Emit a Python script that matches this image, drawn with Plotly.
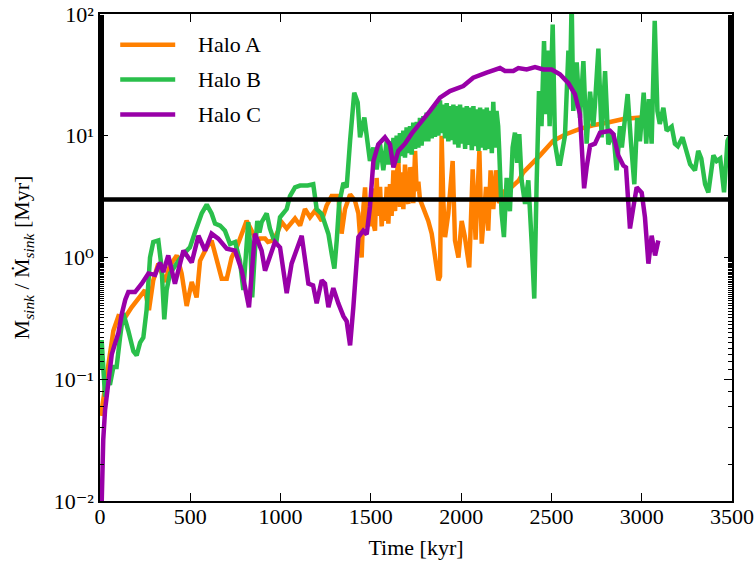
import plotly.graph_objects as go

# Sink accretion timescale M / Mdot [Myr] versus time [kyr] for three haloes

time_a = [5, 20, 40, 55, 74, 102, 138, 175, 212, 249, 271, 295, 323, 360, 388, 425, 452, 480, 508, 535,
          554, 591, 618, 655, 674, 702, 729, 757, 785, 812, 840, 868, 886, 914, 930, 960, 987, 1006, 1034,
          1061, 1080, 1108, 1135, 1163, 1191, 1228, 1255, 1283, 1320, 1338, 1357, 1385, 1412, 1431, 1449,
          1459, 1468, 1477, 1486, 1495, 1505, 1514, 1523, 1532, 1541, 1551, 1560, 1569, 1578, 1588, 1597,
          1606, 1615, 1625, 1634, 1643, 1652, 1661, 1670, 1680, 1689, 1698, 1708, 1717, 1726, 1735, 1745,
          1754, 1763, 1772, 1781, 1800, 1818, 1837, 1855, 1874, 1883, 1892, 1901, 1911, 1929, 1953, 1966,
          1985, 2003, 2020, 2045, 2064, 2080, 2101, 2114, 2138, 2150, 2163, 2178, 2193, 2210, 2240, 2280,
          2320, 2344, 2372, 2437, 2510, 2580, 2658, 2730, 2806, 2898, 2991]
ratio_a = [0.05, 0.07, 0.12, 0.15, 0.25, 0.33, 0.32, 0.39, 0.46, 0.54, 0.37, 0.65, 0.89, 0.63, 0.86, 1.04,
           0.74, 0.40, 0.63, 0.47, 0.94, 1.21, 1.38, 0.89, 0.67, 0.67, 1.0, 1.21, 1.57, 2.0, 1.66, 1.34,
           1.43, 1.43, 1.34, 1.38, 1.66, 1.95, 1.73, 1.9, 2.09, 1.83, 2.5, 2.14, 2.43, 2.0, 2.67, 3.2, 3.2,
           1.57, 2.5, 3.3, 2.93, 2.3, 1.0, 2.6, 3.77, 1.77, 3.1, 1.8, 3.7, 1.9, 1.66, 4.5, 2.2, 3.8, 1.8,
           3.0, 2.0, 3.8, 1.9, 4.0, 2.2, 5.2, 2.4, 4.5, 6.6, 2.6, 5.0, 2.5, 5.8, 3.0, 2.77, 5.5, 4.9, 2.8,
           7.5, 3.5, 4.2, 3.0, 2.77, 2.43, 2.0, 1.57, 1.08, 0.65, 0.7, 10.0, 3.0, 1.47, 2.3, 6.2, 1.38,
           1.0, 2.0, 1.5, 0.83, 5.3, 1.4, 7.5, 1.3, 3.8, 1.66, 5.2, 2.5, 5.2, 2.8, 3.5, 3.8, 4.3, 5.0, 5.5,
           6.9, 9.1, 10.3, 11.4, 12.2, 12.8, 13.7, 14.1]

time_b = [3, 9, 15, 28, 43, 55, 74, 92, 111, 129, 157, 185, 203, 222, 240, 258, 277, 295, 323, 341, 356,
          369, 388, 415, 443, 471, 498, 526, 563, 591, 618, 637, 665, 692, 720, 748, 775, 794, 807, 821,
          834, 843, 858, 871, 883, 895, 923, 941, 960, 978, 997, 1015, 1034, 1052, 1080, 1108, 1150, 1181,
          1200, 1228, 1255, 1265, 1283, 1298, 1311, 1324, 1348, 1366, 1385, 1398, 1408, 1427, 1440, 1464,
          1477, 1495, 1514, 1532, 1551, 1569, 1588, 1597, 1606, 1615, 1625, 1634, 1643, 1652, 1661, 1670,
          1680, 1689, 1698, 1708, 1717, 1726, 1735, 1745, 1754, 1763, 1772, 1781, 1791, 1800, 1809, 1818,
          1828, 1837, 1846, 1855, 1865, 1874, 1883, 1892, 1901, 1911, 1920, 1929, 1938, 1948, 1957, 1966,
          1975, 1985, 1994, 2003, 2012, 2022, 2031, 2040, 2049, 2059, 2068, 2077, 2086, 2096, 2105, 2114,
          2123, 2133, 2142, 2151, 2160, 2170, 2178, 2187, 2196, 2205, 2211, 2224, 2237, 2252, 2270, 2285,
          2298, 2310, 2322, 2335, 2354, 2372, 2391, 2405, 2418, 2431, 2445, 2459, 2470, 2480, 2490, 2507,
          2520, 2538, 2548, 2575, 2594, 2603, 2612, 2621, 2640, 2658, 2677, 2695, 2714, 2732, 2741, 2760,
          2778, 2797, 2815, 2843, 2861, 2880, 2890, 2922, 2940, 2959, 2975, 2990, 3011, 3025, 3040, 3055,
          3072, 3087, 3100, 3120, 3138, 3166, 3184, 3200, 3226, 3245, 3268, 3295, 3313, 3330, 3351, 3369,
          3397, 3415, 3435, 3456, 3475, 3493]
ratio_b = [0.12, 0.21, 0.15, 0.072, 0.10, 0.09, 0.126, 0.126, 0.22, 0.35, 0.25, 0.17, 0.157, 0.2, 0.22,
           0.37, 1.0, 1.34, 1.38, 0.83, 0.31, 0.54, 0.74, 0.86, 0.98, 1.1, 1.21, 1.61, 2.3, 2.72, 2.3, 1.9,
           1.83, 1.66, 1.29, 1.34, 0.94, 0.54, 1.1, 1.95, 1.14, 0.47, 1.14, 2.0, 1.6, 1.95, 2.3, 1.73, 1.43,
           1.38, 2.14, 2.35, 2.5, 3.2, 3.77, 3.9, 3.9, 4.0, 2.5, 2.28, 1.72, 1.56, 1.07, 0.81, 1.38, 2.75,
           4.1, 3.77, 9.1, 18.0, 22.6, 18.8, 9.7, 14.1, 9.7, 6.2, 8.0, 5.3, 8.5, 5.2, 9.1, 5.8, 9.0, 5.8,
           9.6, 6.2, 10.0, 6.0, 10.5, 6.8, 11.0, 6.6, 11.7, 7.2, 12.0, 7.0, 12.8, 7.8, 13.0, 8.0, 14.0, 8.3,
           14.5, 9.0, 15.5, 9.0, 16.0, 9.5, 17.0, 9.8, 18.0, 10.0, 19.5, 10.5, 18.0, 9.5, 18.5, 9.0, 17.5,
           9.2, 18.0, 8.5, 17.5, 8.0, 18.0, 8.6, 17.0, 7.8, 17.5, 8.4, 17.0, 7.6, 17.5, 8.2, 16.5, 7.5,
           17.0, 8.0, 16.5, 7.6, 17.0, 7.8, 16.0, 7.2, 19.0, 8.0, 16.0, 12.0, 7.5, 2.3, 1.47, 4.5, 2.4,
           8.0, 10.6, 6.0, 10.3, 4.28, 2.75, 4.3, 1.29, 0.46, 4.0, 23.3, 12.0, 60.0, 15.0, 50.0, 12.0,
           82.0, 8.6, 5.9, 5.9, 10.0, 50.0, 25.0, 130.0, 16.0, 40.0, 14.0, 41.0, 8.6, 23.0, 12.0, 18.0,
           52.0, 9.7, 34.0, 8.5, 10.5, 5.2, 12.0, 8.0, 22.0, 9.0, 4.0, 14.0, 9.0, 22.6, 8.6, 20.0, 8.6,
           88.0, 16.0, 12.5, 17.0, 11.0, 11.9, 8.6, 8.2, 9.7, 7.5, 5.85, 5.2, 7.5, 6.5, 4.0, 3.43, 6.9,
           6.2, 6.5, 3.43, 9.1, 10.3]

time_c = [8, 12, 18, 28, 46, 65, 80, 102, 120, 140, 157, 194, 231, 268, 305, 332, 351, 378, 415, 462,
          508, 545, 582, 618, 655, 702, 748, 785, 825, 858, 895, 914, 969, 997, 1034, 1061, 1117, 1154,
          1180, 1200, 1228, 1246, 1265, 1292, 1320, 1348, 1366, 1385, 1403, 1420, 1431, 1458, 1477, 1495,
          1514, 1541, 1578, 1606, 1625, 1652, 1689, 1726, 1772, 1828, 1883, 1938, 2012, 2067, 2141, 2215,
          2243, 2289, 2317, 2363, 2409, 2455, 2501, 2547, 2594, 2630, 2658, 2668, 2681, 2695, 2714, 2741,
          2769, 2824, 2843, 2870, 2898, 2913, 2926, 2935, 2954, 2972, 3000, 3018, 3037, 3055, 3074, 3092]
ratio_c = [0.008, 0.02, 0.032, 0.056, 0.10, 0.16, 0.19, 0.24, 0.34, 0.45, 0.52, 0.52, 0.61, 0.74, 0.72,
           0.91, 0.76, 1.04, 0.61, 1.14, 0.91, 1.51, 1.14, 1.57, 1.43, 1.18, 1.14, 0.78, 0.39, 1.57, 1.14,
           0.78, 1.34, 1.21, 0.51, 0.89, 1.51, 0.61, 0.59, 0.42, 0.65, 0.61, 0.39, 0.56, 0.42, 0.33, 0.30,
           0.19, 0.39, 1.0, 1.47, 1.66, 1.55, 2.6, 6.2, 8.5, 9.7, 8.5, 5.5, 7.5, 8.6, 10.4, 12.5, 16.0,
           20.6, 23.3, 25.6, 30.0, 33.0, 36.0, 34.0, 34.0, 36.0, 35.0, 36.6, 35.0, 35.0, 32.0, 27.0, 22.0,
           15.0, 7.5, 3.7, 5.5, 8.3, 8.6, 10.6, 11.0, 10.3, 6.9, 5.7, 5.5, 2.6, 1.73, 2.6, 3.77, 3.4, 2.14,
           0.89, 1.51, 1.04, 1.38]

threshold = 3.0
x_ticks = [0, 500, 1000, 1500, 2000, 2500, 3000, 3500]
y_ticks = [0.01, 0.1, 1, 10, 100]
y_tick_text = ["10\u207b\u00b2", "10\u207b\u00b9", "10\u2070", "10\u00b9", "10\u00b2"]

series = [
    ("Halo A", time_a, ratio_a, "#FF8000"),
    ("Halo B", time_b, ratio_b, "#2ABF4B"),
    ("Halo C", time_c, ratio_c, "#9900A8"),
]

FONT = "Liberation Serif, DejaVu Serif, serif"
TXT = dict(family=FONT, size=22, color="black")

fig = go.Figure()
for name, t, r, color in series:
    fig.add_trace(go.Scatter(x=t, y=r, mode="lines", name=name, showlegend=False,
                             line=dict(color=color, width=4.5)))

fig.add_hline(y=threshold, line=dict(color="black", width=4.5))

# legend drawn as line swatches plus labels in the upper-left corner
for i, (name, _, _, color) in enumerate(series):
    yp = 0.937 - 0.0717 * i
    fig.add_shape(type="line", xref="paper", yref="paper",
                  x0=0.032, x1=0.119, y0=yp, y1=yp,
                  line=dict(color=color, width=4.5))
    fig.add_annotation(xref="paper", yref="paper", x=0.152, y=yp, text=name,
                       showarrow=False, xanchor="left", yanchor="middle", font=TXT)

axis_common = dict(
    showline=True, linecolor="black", linewidth=1.5, mirror="allticks",
    ticks="inside", ticklen=8, tickwidth=1, tickcolor="black",
    showgrid=False, zeroline=False, automargin=False,
    ticklabeloverflow="allow", tickfont=TXT,
)

fig.update_xaxes(range=[0, 3500], tickvals=x_ticks, ticklabelstandoff=-5,
                 title=dict(text="Time [kyr]", font=TXT, standoff=11),
                 **axis_common)
fig.update_yaxes(type="log", range=[-2.0, 2.0], tickvals=y_ticks, ticktext=y_tick_text,
                 minor=dict(ticks="inside", ticklen=4, tickcolor="black", showgrid=False),
                 title=dict(text="M<sub><i>sink</i></sub> / \u1e40<sub><i>sink</i></sub> [Myr]",
                            font=TXT, standoff=18),
                 **axis_common)

fig.update_layout(
    width=756, height=564,
    margin=dict(l=100, r=24, t=14, b=63),
    paper_bgcolor="white", plot_bgcolor="white",
    font=TXT,
    showlegend=False,
)

fig.write_html("out.html")
